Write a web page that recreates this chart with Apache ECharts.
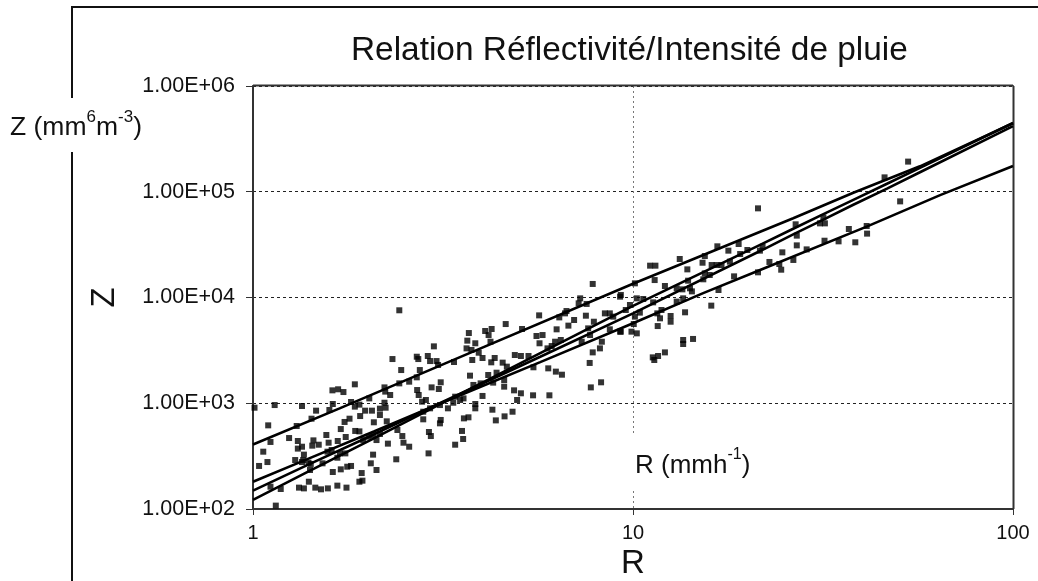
<!DOCTYPE html>
<html><head><meta charset="utf-8">
<style>html,body{margin:0;padding:0;background:#fff}#c{width:1038px;height:581px}</style>
<script src="https://cdn.jsdelivr.net/npm/echarts@6/dist/echarts.min.js"></script>
</head><body><div id="c"></div>
<script>
// Scatter points, as [log10 R, log10 Z]
const samplesLog = [[.004,2.958],[.057,2.983],[.129,2.974],[.040,2.791],[.046,2.634],[.027,2.542],[.016,2.407],[.038,2.444],[.095,2.671],[.115,2.785],[.154,2.854],[.166,2.930],[.201,2.936],[.209,3.122],[.224,3.132],[.238,3.106],[.268,3.179],[.210,2.993],[.258,3.012],[.268,2.968],[.280,2.987],[.306,3.046],[.295,2.930],[.313,2.930],[.346,3.150],[.348,3.110],[.361,3.078],[.346,3.005],[.334,2.949],[.349,2.958],[.334,2.889],[.318,2.820],[.282,2.879],[.254,2.854],[.241,2.823],[.231,2.756],[.352,2.829],[.269,2.738],[.280,2.734],[.193,2.700],[.244,2.681],[.223,2.643],[.199,2.627],[.173,2.608],[.156,2.599],[.159,2.649],[.118,2.643],[.129,2.589],[.118,2.571],[.134,2.514],[.111,2.463],[.129,2.444],[.152,2.426],[.150,2.369],[.183,2.432],[.196,2.542],[.222,2.485],[.243,2.526],[.210,2.350],[.231,2.375],[.248,2.400],[.258,2.407],[.286,2.340],[.280,2.258],[.288,2.268],[.310,2.432],[.316,2.514],[.325,2.369],[.377,2.470],[.355,2.618],[.393,2.690],[.396,2.627],[.411,2.589],[.380,2.747],[.046,2.211],[.073,2.189],[.060,2.032],[.147,2.258],[.121,2.202],[.134,2.195],[.164,2.202],[.179,2.186],[.197,2.195],[.222,2.221],[.246,2.202],[.367,3.418],[.385,3.879],[.390,3.314],[.385,3.188],[.411,3.204],[.431,3.245],[.439,3.314],[.431,3.440],[.435,3.418],[.460,3.447],[.466,3.399],[.483,3.399],[.476,3.538],[.487,3.362],[.494,3.198],[.470,3.150],[.489,3.135],[.432,3.125],[.436,3.078],[.455,3.031],[.445,3.015],[.529,3.390],[.568,3.664],[.564,3.592],[.585,3.567],[.562,3.519],[.575,3.504],[.594,3.478],[.577,3.409],[.604,3.428],[.636,3.428],[.627,3.387],[.611,3.683],[.628,3.702],[.620,3.645],[.625,3.582],[.665,3.749],[.708,3.702],[.657,3.384],[.668,3.346],[.689,3.456],[.705,3.447],[.725,3.447],[.738,3.340],[.571,3.261],[.619,3.267],[.641,3.289],[.661,3.220],[.661,3.157],[.632,3.195],[.599,3.188],[.604,3.069],[.687,3.122],[.705,3.094],[.695,3.031],[.737,3.075],[.780,3.075],[.585,2.993],[.585,2.952],[.630,2.939],[.567,2.867],[.555,2.857],[.662,2.876],[.639,2.838],[.683,2.920],[.550,2.738],[.553,2.662],[.532,2.608],[.513,2.952],[.494,2.842],[.492,2.810],[.463,2.728],[.468,2.690],[.462,2.526],[.448,2.848],[.753,3.831],[.746,3.636],[.762,3.645],[.754,3.567],[.775,3.519],[.795,3.582],[.810,3.598],[.786,3.541],[.777,3.330],[.797,3.299],[.813,3.270],[.799,3.699],[.806,3.812],[.821,3.850],[.825,3.872],[.830,3.734],[.845,3.787],[.861,3.992],[.857,3.945],[.878,3.939],[.894,4.128],[.876,3.828],[.882,3.708],[.897,3.771],[.887,3.645],[.865,3.582],[.918,3.582],[.913,3.519],[.894,3.481],[.886,3.381],[.889,3.150],[.916,3.198],[.939,3.850],[.926,3.850],[.948,3.819],[.966,4.008],[.992,3.929],[.996,3.677],[.966,3.677],[.939,3.699],[1.010,3.661],[1.005,4.134],[.554,3.046],[.532,3.062],[.527,3.005],[.492,2.983],[.466,2.952],[.448,2.920],[.545,3.031],[.580,3.173],[1.010,3.992],[1.005,3.819],[.290,2.652],[.304,2.684],[.325,2.652],[.334,2.709],[.317,2.700],[.132,2.463],[.146,2.438],[.207,2.558],[.229,2.526],
[1.724,5.285],[1.662,5.136],[1.703,4.909],[1.329,4.843],[1.428,4.692],[1.501,4.758],[1.492,4.701],[1.505,4.701],[1.431,4.585],[1.431,4.493],[1.504,4.537],[1.541,4.531],[1.568,4.648],[1.615,4.676],[1.616,4.604],[1.585,4.522],[1.457,4.455],[1.393,4.427],[1.359,4.336],[1.422,4.355],[1.385,4.317],[1.390,4.263],[1.329,4.238],[1.266,4.200],[1.225,4.071],[1.206,3.923],[1.222,4.484],[1.278,4.506],[1.251,4.443],[1.301,4.449],[1.282,4.411],[1.341,4.481],[1.334,4.443],[1.189,4.392],[1.123,4.364],[1.045,4.301],[1.059,4.301],[1.183,4.329],[1.143,4.266],[1.207,4.307],[1.220,4.307],[1.233,4.307],[1.255,4.339],[1.189,4.228],[1.202,4.213],[1.185,4.172],[1.145,4.159],[1.057,4.165],[1.084,4.109],[.968,4.024],[1.115,4.087],[1.130,4.077],[1.150,4.087],[1.155,4.058],[1.115,3.961],[1.132,3.992],[1.027,3.986],[.981,3.882],[1.053,3.954],[1.018,3.857],[1.075,3.882],[1.064,3.850],[1.071,3.803],[1.099,3.825],[1.099,3.771],[1.137,3.860],[1.065,3.730],[1.002,3.749],[.968,3.677],[1.132,3.598],[1.132,3.560],[1.158,3.608],[1.084,3.481],[1.066,3.447],[1.052,3.434],[1.056,3.409]];

// Fitted Z-R lines
const lineAR = [1,1.69,3.37,10,26.4,38,56.9,100];
const lineAZ = [407,895,2570,13500,56200,97700,174000,444000];
const lineBR = [1,1.38,2.08,3.1,5.7,10,15.3,21.6,41.2,64.3,100];
const lineBZ = [181,293,540,990,2450,5700,11000,18200,46800,93000,175000];
const lineCR = [1,1.38,2.08,3.1,5.7,10,21.6,26.4,31.6,38,46.6,56.9,100];
const lineCZ = [149,257,507,1000,2750,7080,27500,39500,54300,75300,107000,153000,417000];
const lineDR = [1,1.38,2.08,3.1,5.7,10,21.6,26.4,31.6,38,46.6,56.9,100];
const lineDZ = [122,221,466,977,2980,8320,31500,44700,61000,83800,119000,168000,447000];

const yTickLabels = {2:'1.00E+02',3:'1.00E+03',4:'1.00E+04',5:'1.00E+05',6:'1.00E+06'};
const titleText = 'Relation Réflectivité/Intensité de pluie';

const font = '"Liberation Sans", Arial, sans-serif';
const toPairs = (xs, ys) => xs.map((x, i) => [x, ys[i]]);
const lineSeries = d => ({type:'line', data:d, showSymbol:false, symbol:'none', smooth:false, z:4,
  lineStyle:{color:'#000', width:2.6}});

const chart = echarts.init(document.getElementById('c'));
chart.setOption({
  animation:false, backgroundColor:'#fff',
  title:{text:titleText, left:351, top:34, padding:0, textStyle:{fontFamily:font, fontSize:33.4, fontWeight:'normal', color:'#111'}},
  grid:{left:253, right:25, top:86, bottom:72, containLabel:false, outerBoundsMode:'none'},
  xAxis:{type:'log', logBase:10, min:1, max:100, name:'R', nameLocation:'middle', nameGap:36,
    nameTextStyle:{fontFamily:font, fontSize:33, color:'#111'},
    axisLine:{show:true, onZero:false, lineStyle:{color:'#333', width:2}},
    axisTick:{show:true, length:6, lineStyle:{color:'#333'}}, minorTick:{show:false},
    axisLabel:{fontFamily:font, fontSize:20, color:'#111', margin:14},
    splitLine:{show:true, lineStyle:{color:'#777', type:[2,3], width:1}}},
  yAxis:{type:'log', logBase:10, min:100, max:1000000, name:'Z', nameLocation:'middle', nameGap:132, nameRotate:90,
    nameTextStyle:{fontFamily:font, fontSize:33, color:'#111'},
    axisLine:{show:true, onZero:false, lineStyle:{color:'#333', width:2}},
    axisTick:{show:true, length:7, lineStyle:{color:'#333'}}, minorTick:{show:false},
    axisLabel:{fontFamily:font, fontSize:21.5, color:'#111', margin:18,
      formatter:v=>yTickLabels[Math.round(Math.log10(v))]},
    splitLine:{show:true, lineStyle:{color:'#222', type:[3,3], width:1}}},
  series:[
    {type:'scatter', symbol:'rect', symbolSize:6, z:3, itemStyle:{color:'#000'},
     data:samplesLog.map(p=>[Math.pow(10,p[0]),Math.pow(10,p[1])])},
    lineSeries(toPairs(lineAR,lineAZ)), lineSeries(toPairs(lineBR,lineBZ)),
    lineSeries(toPairs(lineCR,lineCZ)), lineSeries(toPairs(lineDR,lineDZ))
  ],
  graphic:[
    {type:'rect', silent:true, z:1, shape:{x:72,y:7,width:1100,height:700}, style:{fill:'none',stroke:'#111',lineWidth:2}},
    {type:'rect', silent:true, z:2, shape:{x:1013,y:86,width:1,height:423}, style:{fill:'#333',stroke:'#333',lineWidth:1}},
    {type:'rect', silent:true, z:2, shape:{x:253,y:85,width:760,height:1}, style:{fill:'#333',stroke:'#333',lineWidth:1}},
    {type:'rect', silent:true, z:5, shape:{x:6,y:98,width:138,height:54}, style:{fill:'#fff'}},
    {type:'text', silent:true, z:6, x:10, y:109, style:{
      rich:{b:{fontFamily:font,fontSize:26.5,fill:'#111',lineHeight:32,verticalAlign:'bottom'},
            s:{fontFamily:font,fontSize:17,fill:'#111',lineHeight:32,verticalAlign:'top',padding:[0,0,10,0]}},
      text:'{b|Z (mm}{s|6}{b|m}{s|-3}{b|)}'}},
    {type:'rect', silent:true, z:5, shape:{x:630,y:436,width:130,height:52}, style:{fill:'#fff'}},
    {type:'text', silent:true, z:6, x:635, y:447, style:{
      rich:{b:{fontFamily:font,fontSize:26,fill:'#111',lineHeight:32,verticalAlign:'bottom'},
            s:{fontFamily:font,fontSize:16,fill:'#111',lineHeight:32,verticalAlign:'top',padding:[0,0,10,0]}},
      text:'{b|R (mmh}{s|-1}{b|)}'}}
  ]
});
</script></body></html>
